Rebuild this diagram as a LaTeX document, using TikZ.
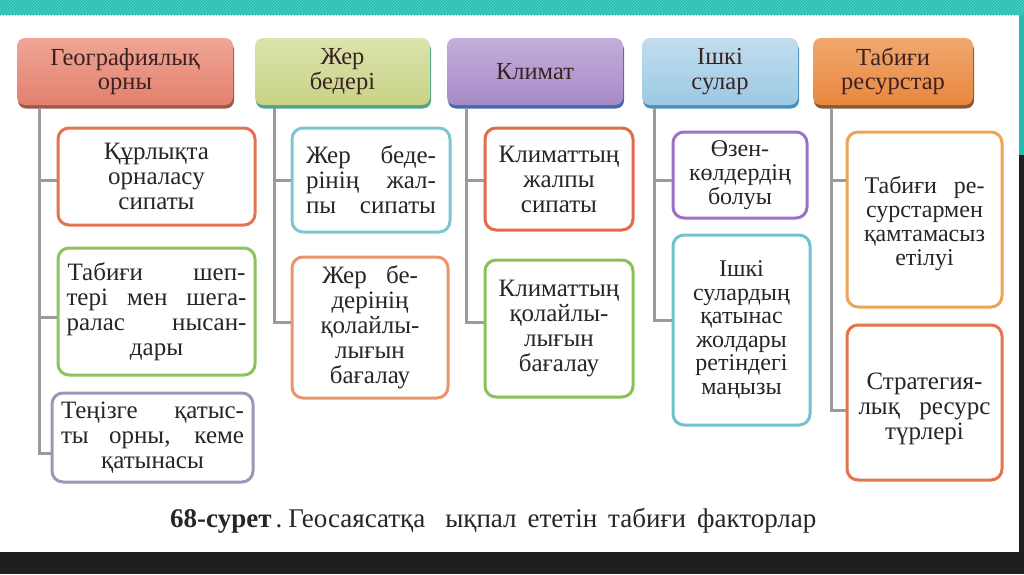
\documentclass[tikz,border=0pt]{standalone}
\usepackage{fontspec}
\setmainfont{Liberation Serif}
\usetikzlibrary{patterns,shadows,calc}
\definecolor{teal1}{HTML}{22BDAF}
\definecolor{teal2}{HTML}{66D5CB}
\definecolor{darkbg}{HTML}{1F1F1F}
\definecolor{trunkc}{HTML}{9B9B9B}
\definecolor{txt}{HTML}{262626}
\definecolor{htxt}{HTML}{3A2222}
\definecolor{hA}{HTML}{E4806E}\definecolor{hAt}{HTML}{EFA596}\definecolor{hAs}{HTML}{9A5A52}
\definecolor{hB}{HTML}{C8D285}\definecolor{hBt}{HTML}{DCE3AE}\definecolor{hBs}{HTML}{4FA58E}
\definecolor{hC}{HTML}{A68AC6}\definecolor{hCt}{HTML}{C3AEDB}\definecolor{hCs}{HTML}{4668AE}
\definecolor{hD}{HTML}{9CC9E4}\definecolor{hDt}{HTML}{C2DDEE}\definecolor{hDs}{HTML}{4A8EBE}
\definecolor{hE}{HTML}{E9873E}\definecolor{hEt}{HTML}{F0A86E}\definecolor{hEs}{HTML}{855A34}
\definecolor{bA}{HTML}{E2744F}
\definecolor{bB}{HTML}{8FC25F}
\definecolor{bC}{HTML}{A194B8}
\definecolor{bD}{HTML}{7FC6D3}
\definecolor{bE}{HTML}{E9956D}
\definecolor{bF}{HTML}{E06C4C}
\definecolor{bG}{HTML}{8CC056}
\definecolor{bH}{HTML}{9C72C4}
\definecolor{bI}{HTML}{72C2CB}
\definecolor{bJ}{HTML}{EDA454}
\definecolor{bK}{HTML}{E3744D}
\newcommand\jl[2]{\makebox[#1pt][s]{#2}}
\begin{document}
\begin{tikzpicture}[x=1pt,y=-1pt,
  hdr/.style={rounded corners=8pt, inner sep=0pt, align=center, text=htxt,
    font=\fontsize{24.5}{24.5}\selectfont, minimum height=67pt},
  body/.style={draw, line width=3pt, rounded corners=11pt, fill=white, inner sep=0pt,
    align=center, text=txt, font=\fontsize{25}{25}\selectfont},
  trunk/.style={draw=trunkc, line width=3pt}]
\useasboundingbox (0,0) rectangle (1024,574);
% background
\fill[white] (0,0) rectangle (1024,574);
\fill[teal1] (0,0) rectangle (1024,15);
\fill[pattern=north east lines, pattern color=teal2] (0,0) rectangle (1024,15);
\fill[teal1] (1019,15) rectangle (1024,155);
\fill[darkbg] (1019,155) rectangle (1024,574);
\fill[darkbg] (0,552) rectangle (1024,574);
% headers
\node[hdr, minimum width=216pt, top color=hAt, bottom color=hA,
  drop shadow={fill=hAs, shadow xshift=1pt, shadow yshift=-3.5pt, opacity=1}]
  (h1) at (125,71.5) {Географиялық\\орны};
\node[hdr, minimum width=175pt, top color=hBt, bottom color=hB,
  drop shadow={fill=hBs, shadow xshift=1pt, shadow yshift=-3.5pt, opacity=1}]
  (h2) at (342.5,71.5) {Жер\\бедері};
\node[hdr, minimum width=176pt, top color=hCt, bottom color=hC,
  drop shadow={fill=hCs, shadow xshift=1pt, shadow yshift=-3.5pt, opacity=1}]
  (h3) at (535,71.5) {Климат};
\node[hdr, minimum width=156pt, top color=hDt, bottom color=hD,
  drop shadow={fill=hDs, shadow xshift=1pt, shadow yshift=-3.5pt, opacity=1}]
  (h4) at (720,71.5) {Ішкі\\сулар};
\node[hdr, minimum width=160pt, top color=hEt, bottom color=hE,
  drop shadow={fill=hEs, shadow xshift=1pt, shadow yshift=-3.5pt, opacity=1}]
  (h5) at (893,71.5) {Табиғи\\ресурстар};
% body boxes
\node[body, draw=bA, minimum width=197pt, minimum height=97pt] (a) at (156.5,176.5)
  {Құрлықта\\орналасу\\сипаты};
\node[body, draw=bB, minimum width=197pt, minimum height=127pt] (b) at (156.5,311.5)
  {\jl{178}{Табиғи шеп-}\\\jl{180}{тері мен шега-}\\\jl{180}{ралас нысан-}\\дары};
\node[body, draw=bC, minimum width=201pt, minimum height=89pt] (c) at (152.5,437.5)
  {\jl{183}{Теңізге қатыс-}\\\jl{183}{ты орны, кеме}\\қатынасы};
\node[body, draw=bD, minimum width=158pt, minimum height=104pt] (d) at (371,180)
  {\jl{130}{Жер беде-}\\\jl{130}{рінің жал-}\\\jl{130}{пы сипаты}};
\node[body, draw=bE, minimum width=156pt, minimum height=141pt] (e) at (370,327.5)
  {\jl{96}{Жер бе-}\\дерінің\\қолайлы-\\лығын\\бағалау};
\node[body, draw=bF, minimum width=148pt, minimum height=102pt] (f) at (559,179)
  {Климаттың\\жалпы\\сипаты};
\node[body, draw=bG, minimum width=148pt, minimum height=137pt] (g) at (559,328.5)
  {Климаттың\\қолайлы-\\лығын\\бағалау};
\node[body, draw=bH, minimum width=134pt, minimum height=86pt,
  font=\fontsize{24}{24}\selectfont] (h) at (740,175)
  {Өзен-\\көлдердің\\болуы};
\node[body, draw=bI, minimum width=137pt, minimum height=190pt,
  font=\fontsize{24}{23.5}\selectfont] (i) at (741.5,330)
  {Ішкі\\сулардың\\қатынас\\жолдары\\ретіндегі\\маңызы};
\node[body, draw=bJ, minimum width=155pt, minimum height=175pt,
  font=\fontsize{24}{24}\selectfont] (j) at (924.5,219.5)
  {\rule{0pt}{26pt}\jl{120}{Табиғи ре-}\\сурстармен\\қамтамасыз\\етілуі};
\node[body, draw=bK, minimum width=155pt, minimum height=155pt] (k) at (924.5,402.5)
  {\rule{0pt}{30pt}Стратегия-\\\jl{132}{лық ресурс}\\түрлері};
% connector points
\coordinate (pa) at ($(a.west)+(0,3.5)$);
\coordinate (pb) at ($(b.west)+(0,5.5)$);
\coordinate (pc) at ($(c.west)+(0,15.5)$);
\coordinate (pd) at ($(d.west)+(0,0)$);
\coordinate (pe) at ($(e.west)+(0,-5.5)$);
\coordinate (pf) at ($(f.west)+(0,1)$);
\coordinate (pg) at ($(g.west)+(0,-6.5)$);
\coordinate (ph) at ($(h.west)+(0,5)$);
\coordinate (pi) at ($(i.west)+(0,-10)$);
\coordinate (pj) at ($(j.west)+(0,-39.5)$);
\coordinate (pk) at ($(k.west)+(0,7.5)$);
\coordinate (t1) at ($(h1.south west)+(23,3)$);
\coordinate (t2) at ($(h2.south west)+(20,3)$);
\coordinate (t3) at ($(h3.south west)+(20,3)$);
\coordinate (t4) at ($(h4.south west)+(13,3)$);
\coordinate (t5) at ($(h5.south west)+(19,3)$);
\draw[trunk] (t1) |- (pc);
\draw[trunk] (t1 |- pa) -- (pa);
\draw[trunk] (t1 |- pb) -- (pb);
\draw[trunk] (t2) |- (pe);
\draw[trunk] (t2 |- pd) -- (pd);
\draw[trunk] (t3) |- (pg);
\draw[trunk] (t3 |- pf) -- (pf);
\draw[trunk] (t4) |- (pi);
\draw[trunk] (t4 |- ph) -- (ph);
\draw[trunk] (t5) |- (pk);
\draw[trunk] (t5 |- pj) -- (pj);
% caption
\node[text=txt, font=\fontsize{27}{30}\selectfont, inner sep=0pt, anchor=west] (cap) at (170,521)
  {\textbf{68-сурет}\hspace{4pt}.\hspace{6pt}Геосаясатқа\hspace{20pt}ықпал\hspace{11pt}ететін\hspace{11pt}табиғи\hspace{11pt}факторлар};
\end{tikzpicture}
\end{document}
